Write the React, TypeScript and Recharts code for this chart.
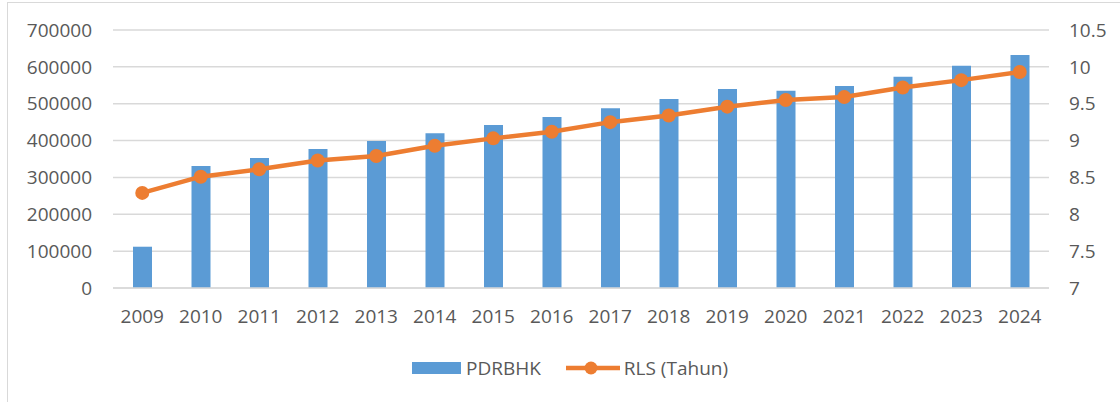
import { ComposedChart, Bar, Line, XAxis, YAxis, CartesianGrid, Legend } from 'recharts'

const years = ['2009', '2010', '2011', '2012', '2013', '2014', '2015', '2016', '2017', '2018', '2019', '2020', '2021', '2022', '2023', '2024']
const pdrbhk = [112000, 331000, 353000, 377000, 399000, 420000, 442000, 464000, 488000, 513000, 540000, 535000, 548000, 573000, 603000, 632000]
const rls = [8.29, 8.51, 8.61, 8.73, 8.79, 8.93, 9.03, 9.12, 9.25, 9.34, 9.46, 9.55, 9.59, 9.72, 9.82, 9.93]
const leftTicks = [0, 100000, 200000, 300000, 400000, 500000, 600000, 700000]
const rightTicks = [7, 7.5, 8, 8.5, 9, 9.5, 10, 10.5]

const data = years.map((year, i) => ({ year, pdrbhk: pdrbhk[i], rls: rls[i] }))

const BLUE = '#5B9BD5'
const ORANGE = '#ED7D31'
const TEXT = '#595959'
const GRID = '#D9D9D9'
const FONT = '"Open Sans", sans-serif'

const tickStyle = { fontSize: 19, fill: TEXT, fontFamily: FONT }

function LegendContent(): JSX.Element {
  return (
    <div style={{ height: 60, display: 'flex', alignItems: 'center', paddingLeft: 412, fontFamily: FONT, fontSize: 19, color: TEXT }}>
      <svg width={49} height={12} style={{ marginRight: 5 }}>
        <rect x={0} y={0} width={49} height={12} fill={BLUE} />
      </svg>
      <span>PDRBHK</span>
      <svg width={54} height={16} style={{ marginLeft: 25, marginRight: 4 }}>
        <line x1={0} y1={8} x2={54} y2={8} stroke={ORANGE} strokeWidth={4.5} strokeLinecap="round" />
        <circle cx={25} cy={8} r={6.5} fill={ORANGE} />
      </svg>
      <span>RLS (Tahun)</span>
    </div>
  )
}

export default function App(): JSX.Element {
  return (
    <div style={{ position: 'absolute', left: 0, top: 0, width: 1120, height: 402, overflow: 'hidden', background: '#fff' }}>
      <div style={{ position: 'absolute', left: 7, top: 2, width: 1200, height: 500, border: `1px solid ${GRID}` }} />
      <div style={{ position: 'absolute', left: 0, top: 0 }}>
        <ComposedChart width={1120} height={402} data={data} margin={{ top: 30, right: 0, left: 0, bottom: 4 }}>
          <CartesianGrid yAxisId="left" vertical={false} stroke={GRID} strokeWidth={1.5} />
          <XAxis
            dataKey="year"
            height={50}
            tick={tickStyle}
            tickLine={false}
            tickMargin={16}
            axisLine={{ stroke: GRID, strokeWidth: 1.5 }}
          />
          <YAxis
            yAxisId="left"
            orientation="left"
            width={113}
            domain={[0, 700000]}
            ticks={leftTicks}
            tick={tickStyle}
            tickLine={false}
            axisLine={false}
            tickMargin={15}
            interval={0}
          />
          <YAxis
            yAxisId="right"
            orientation="right"
            width={71}
            domain={[7, 10.5]}
            ticks={rightTicks}
            tick={tickStyle}
            tickLine={false}
            axisLine={false}
            tickMargin={14}
            interval={0}
          />
          <Legend verticalAlign="bottom" content={<LegendContent />} wrapperStyle={{ left: 0, width: 1120 }} />
          <Bar yAxisId="left" dataKey="pdrbhk" name="PDRBHK" fill={BLUE} barSize={19} isAnimationActive={false} />
          <Line
            yAxisId="right"
            dataKey="rls"
            name="RLS (Tahun)"
            type="linear"
            stroke={ORANGE}
            strokeWidth={4.5}
            dot={{ r: 7, fill: ORANGE, stroke: ORANGE, strokeWidth: 0 }}
            isAnimationActive={false}
          />
        </ComposedChart>
      </div>
    </div>
  )
}
